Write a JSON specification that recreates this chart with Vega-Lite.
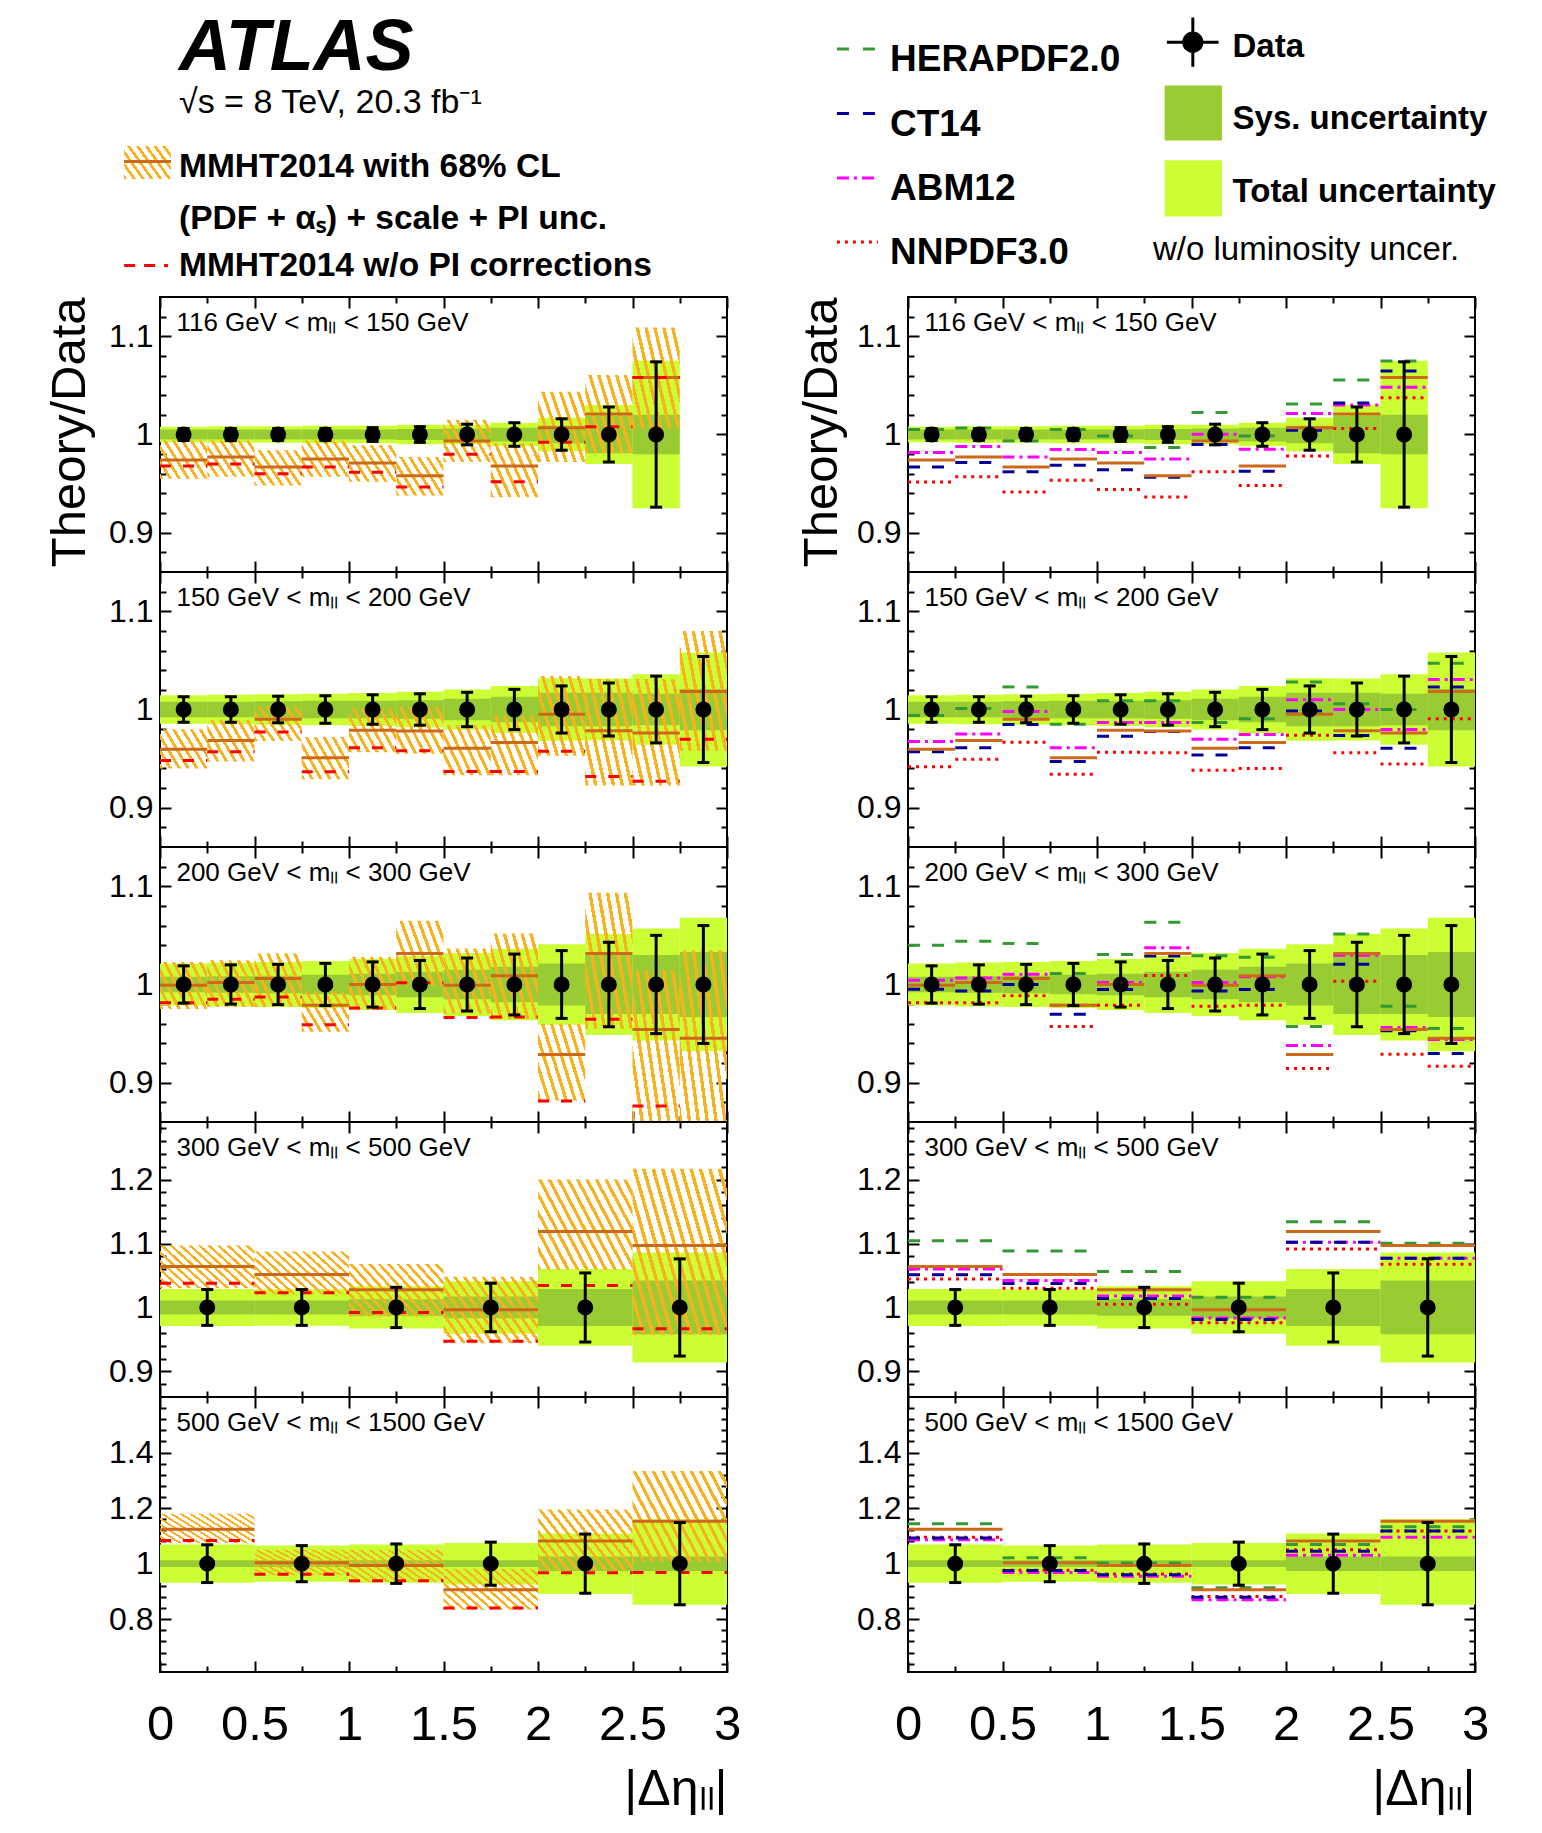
{
"$schema": "https://vega.github.io/schema/vega-lite/v6.json",
"padding": {"left": 44, "top": 0, "right": 0, "bottom": 0},
"background": "white",
"config": {"view": {"stroke": "black", "strokeWidth": 2}, "font": "Liberation Sans", "text": {"font": "Liberation Sans", "color": "black"}},
"datasets": {
"p1": [
{"lo":0,"hi":0.25,"xc":0.125,"tl":0.992,"th":1.008,"sl":0.995,"sh":1.005,"el":0.994,"eh":1.006,"d":1,"m":0.974,"ml":0.955,"mh":0.994,"np":0.968,"he":1.005,"ct":0.967,"ab":0.9816,"nn":0.9517},
{"lo":0.25,"hi":0.5,"xc":0.375,"tl":0.9915,"th":1.0085,"sl":0.995,"sh":1.005,"el":0.994,"eh":1.006,"d":1,"m":0.977,"ml":0.957,"mh":0.994,"np":0.97,"he":1.0065,"ct":0.9714,"ab":0.9878,"nn":0.957},
{"lo":0.5,"hi":0.75,"xc":0.625,"tl":0.9915,"th":1.0085,"sl":0.995,"sh":1.005,"el":0.994,"eh":1.006,"d":1,"m":0.967,"ml":0.948,"mh":0.984,"np":0.96,"he":0.9935,"ct":0.962,"ab":0.977,"nn":0.9415},
{"lo":0.75,"hi":1,"xc":0.875,"tl":0.991,"th":1.009,"sl":0.995,"sh":1.005,"el":0.994,"eh":1.006,"d":1,"m":0.975,"ml":0.957,"mh":0.994,"np":0.967,"he":1.005,"ct":0.9687,"ab":0.9847,"nn":0.9534},
{"lo":1,"hi":1.25,"xc":1.125,"tl":0.991,"th":1.009,"sl":0.995,"sh":1.005,"el":0.993,"eh":1.007,"d":1,"m":0.971,"ml":0.952,"mh":0.989,"np":0.9615,"he":0.9986,"ct":0.964,"ab":0.9816,"nn":0.944},
{"lo":1.25,"hi":1.5,"xc":1.375,"tl":0.99,"th":1.01,"sl":0.9945,"sh":1.0055,"el":0.992,"eh":1.008,"d":1,"m":0.958,"ml":0.938,"mh":0.977,"np":0.9466,"he":0.9867,"ct":0.9565,"ab":0.975,"nn":0.9364},
{"lo":1.5,"hi":1.75,"xc":1.625,"tl":0.99,"th":1.01,"sl":0.994,"sh":1.006,"el":0.9895,"eh":1.0105,"d":1,"m":0.9935,"ml":0.972,"mh":1.015,"np":0.98,"he":1.0224,"ct":0.9898,"ab":1.0003,"nn":0.962},
{"lo":1.75,"hi":2,"xc":1.875,"tl":0.988,"th":1.012,"sl":0.993,"sh":1.007,"el":0.988,"eh":1.012,"d":1,"m":0.968,"ml":0.936,"mh":0.991,"np":0.952,"he":0.9986,"ct":0.9626,"ab":0.985,"nn":0.948},
{"lo":2,"hi":2.25,"xc":2.125,"tl":0.983,"th":1.017,"sl":0.991,"sh":1.009,"el":0.984,"eh":1.016,"d":1,"m":1.007,"ml":0.972,"mh":1.0435,"np":0.992,"he":1.031,"ct":1.0044,"ab":1.0214,"nn":0.978},
{"lo":2.25,"hi":2.5,"xc":2.375,"tl":0.97,"th":1.03,"sl":0.981,"sh":1.019,"el":0.972,"eh":1.028,"d":1,"m":1.021,"ml":0.981,"mh":1.0605,"np":1.008,"he":1.0554,"ct":1.032,"ab":1.03,"nn":1.006},
{"lo":2.5,"hi":2.75,"xc":2.625,"tl":0.925,"th":1.075,"sl":0.98,"sh":1.02,"el":0.926,"eh":1.074,"d":1,"m":1.058,"ml":1.006,"mh":1.109,"np":1.058,"he":1.0748,"ct":1.0646,"ab":1.048,"nn":1.0374}
],
"p2": [
{"lo":0,"hi":0.25,"xc":0.125,"tl":0.9855,"th":1.0145,"sl":0.992,"sh":1.008,"el":0.987,"eh":1.013,"d":1,"m":0.9596,"ml":0.94,"mh":0.98,"np":0.948,"he":0.9939,"ct":0.957,"ab":0.9674,"nn":0.9416},
{"lo":0.25,"hi":0.5,"xc":0.375,"tl":0.985,"th":1.015,"sl":0.992,"sh":1.008,"el":0.987,"eh":1.013,"d":1,"m":0.9684,"ml":0.947,"mh":0.989,"np":0.957,"he":1.001,"ct":0.961,"ab":0.975,"nn":0.9494},
{"lo":0.5,"hi":0.75,"xc":0.625,"tl":0.9845,"th":1.0155,"sl":0.9915,"sh":1.0085,"el":0.9865,"eh":1.0135,"d":1,"m":0.99,"ml":0.968,"mh":1.003,"np":0.977,"he":1.023,"ct":0.9847,"ab":0.998,"nn":0.9667},
{"lo":0.75,"hi":1,"xc":0.875,"tl":0.984,"th":1.016,"sl":0.991,"sh":1.009,"el":0.986,"eh":1.014,"d":1,"m":0.9508,"ml":0.929,"mh":0.972,"np":0.9365,"he":0.985,"ct":0.947,"ab":0.961,"nn":0.934},
{"lo":1,"hi":1.25,"xc":1.125,"tl":0.9833,"th":1.0167,"sl":0.991,"sh":1.009,"el":0.985,"eh":1.015,"d":1,"m":0.979,"ml":0.9565,"mh":1.0007,"np":0.961,"he":1.0088,"ct":0.9728,"ab":0.9868,"nn":0.9565},
{"lo":1.25,"hi":1.5,"xc":1.375,"tl":0.982,"th":1.018,"sl":0.9905,"sh":1.0095,"el":0.984,"eh":1.016,"d":1,"m":0.978,"ml":0.955,"mh":1.0024,"np":0.958,"he":1.0088,"ct":0.9776,"ab":0.9868,"nn":0.9559},
{"lo":1.5,"hi":1.75,"xc":1.625,"tl":0.9796,"th":1.0204,"sl":0.989,"sh":1.011,"el":0.9825,"eh":1.0175,"d":1,"m":0.9606,"ml":0.933,"mh":0.984,"np":0.937,"he":0.9868,"ct":0.9538,"ab":0.9698,"nn":0.9382},
{"lo":1.75,"hi":2,"xc":1.875,"tl":0.976,"th":1.024,"sl":0.987,"sh":1.013,"el":0.9795,"eh":1.0205,"d":1,"m":0.9664,"ml":0.933,"mh":0.994,"np":0.937,"he":0.9905,"ct":0.961,"ab":0.9745,"nn":0.94},
{"lo":2,"hi":2.25,"xc":2.125,"tl":0.9682,"th":1.0318,"sl":0.983,"sh":1.017,"el":0.976,"eh":1.024,"d":1,"m":0.9952,"ml":0.953,"mh":1.034,"np":0.9576,"he":1.028,"ct":0.9986,"ab":1.01,"nn":0.9739},
{"lo":2.25,"hi":2.5,"xc":2.375,"tl":0.9685,"th":1.0315,"sl":0.983,"sh":1.017,"el":0.973,"eh":1.027,"d":1,"m":0.9783,"ml":0.9226,"mh":1.031,"np":0.9317,"he":1.0058,"ct":0.9735,"ab":1.0,"nn":0.956},
{"lo":2.5,"hi":2.75,"xc":2.625,"tl":0.964,"th":1.036,"sl":0.984,"sh":1.016,"el":0.966,"eh":1.034,"d":1,"m":0.976,"ml":0.9226,"mh":1.031,"np":0.927,"he":1.0,"ct":0.9606,"ab":0.9796,"nn":0.9446},
{"lo":2.75,"hi":3,"xc":2.875,"tl":0.942,"th":1.058,"sl":0.979,"sh":1.021,"el":0.946,"eh":1.054,"d":1,"m":1.0183,"ml":0.958,"mh":1.08,"np":0.9698,"he":1.047,"ct":1.0228,"ab":1.0306,"nn":0.9905}
],
"p3": [
{"lo":0,"hi":0.25,"xc":0.125,"tl":0.9785,"th":1.0215,"sl":0.992,"sh":1.008,"el":0.981,"eh":1.019,"d":1,"m":0.9993,"ml":0.975,"mh":1.023,"np":0.9813,"he":1.04,"ct":0.9952,"ab":1.0044,"nn":0.9813},
{"lo":0.25,"hi":0.5,"xc":0.375,"tl":0.9775,"th":1.0225,"sl":0.9915,"sh":1.0085,"el":0.98,"eh":1.02,"d":1,"m":1.002,"ml":0.977,"mh":1.0248,"np":0.985,"he":1.0441,"ct":0.9935,"ab":1.0065,"nn":0.9813},
{"lo":0.5,"hi":0.75,"xc":0.625,"tl":0.977,"th":1.023,"sl":0.991,"sh":1.009,"el":0.9795,"eh":1.0205,"d":1,"m":1.006,"ml":0.977,"mh":1.0316,"np":0.9874,"he":1.0418,"ct":1.0,"ab":1.0105,"nn":0.9885},
{"lo":0.75,"hi":1,"xc":0.875,"tl":0.976,"th":1.024,"sl":0.99,"sh":1.01,"el":0.9785,"eh":1.0215,"d":1,"m":0.979,"ml":0.9518,"mh":0.9925,"np":0.959,"he":1.0112,"ct":0.9698,"ab":0.979,"nn":0.9572},
{"lo":1,"hi":1.25,"xc":1.125,"tl":0.974,"th":1.026,"sl":0.989,"sh":1.011,"el":0.977,"eh":1.023,"d":1,"m":1.0,"ml":0.974,"mh":1.028,"np":0.976,"he":1.0306,"ct":0.995,"ab":1.002,"nn":0.979},
{"lo":1.25,"hi":1.5,"xc":1.375,"tl":0.971,"th":1.029,"sl":0.987,"sh":1.013,"el":0.9755,"eh":1.0245,"d":1,"m":1.0316,"ml":0.999,"mh":1.065,"np":1.0017,"he":1.0635,"ct":1.0289,"ab":1.0374,"nn":1.0092},
{"lo":1.5,"hi":1.75,"xc":1.625,"tl":0.968,"th":1.032,"sl":0.985,"sh":1.015,"el":0.973,"eh":1.027,"d":1,"m":0.9993,"ml":0.9705,"mh":1.0367,"np":0.9664,"he":1.0292,"ct":0.9935,"ab":1.002,"nn":0.9779},
{"lo":1.75,"hi":2,"xc":1.875,"tl":0.9635,"th":1.0365,"sl":0.982,"sh":1.018,"el":0.969,"eh":1.031,"d":1,"m":1.0088,"ml":0.965,"mh":1.052,"np":0.967,"he":1.0278,"ct":0.995,"ab":1.008,"nn":0.979},
{"lo":2,"hi":2.25,"xc":2.125,"tl":0.959,"th":1.041,"sl":0.9785,"sh":1.0215,"el":0.9655,"eh":1.0345,"d":1,"m":0.9287,"ml":0.882,"mh":0.96,"np":0.8815,"he":0.9572,"ct":0.9287,"ab":0.9379,"nn":0.9144},
{"lo":2.25,"hi":2.5,"xc":2.375,"tl":0.9485,"th":1.0515,"sl":0.97,"sh":1.03,"el":0.957,"eh":1.043,"d":1,"m":1.0316,"ml":0.955,"mh":1.0934,"np":0.9647,"he":1.0513,"ct":1.0207,"ab":1.0299,"nn":1.0034},
{"lo":2.5,"hi":2.75,"xc":2.625,"tl":0.943,"th":1.057,"sl":0.97,"sh":1.03,"el":0.95,"eh":1.05,"d":1,"m":0.9542,"ml":0.855,"mh":1.0146,"np":0.8764,"he":0.9779,"ct":0.9528,"ab":0.9562,"nn":0.929},
{"lo":2.75,"hi":3,"xc":2.875,"tl":0.932,"th":1.068,"sl":0.967,"sh":1.033,"el":0.94,"eh":1.06,"d":1,"m":0.9453,"ml":0.855,"mh":1.035,"np":null,"he":0.9552,"ct":0.9297,"ab":0.944,"nn":0.9168}
],
"p4": [
{"lo":0,"hi":0.5,"xc":0.25,"tl":0.971,"th":1.029,"sl":0.989,"sh":1.011,"el":0.972,"eh":1.028,"d":1,"m":1.064,"ml":1.03,"mh":1.0967,"np":1.038,"he":1.1045,"ct":1.051,"ab":1.06,"nn":1.0447},
{"lo":0.5,"hi":1,"xc":0.75,"tl":0.9715,"th":1.0285,"sl":0.989,"sh":1.011,"el":0.972,"eh":1.028,"d":1,"m":1.0515,"ml":1.0208,"mh":1.0874,"np":1.0229,"he":1.0884,"ct":1.0374,"ab":1.042,"nn":1.03},
{"lo":1,"hi":1.5,"xc":1.25,"tl":0.967,"th":1.033,"sl":0.987,"sh":1.013,"el":0.9685,"eh":1.0315,"d":1,"m":1.0276,"ml":0.986,"mh":1.068,"np":0.992,"he":1.0562,"ct":1.014,"ab":1.018,"nn":1.005},
{"lo":1.5,"hi":2,"xc":1.75,"tl":0.959,"th":1.041,"sl":0.983,"sh":1.017,"el":0.962,"eh":1.038,"d":1,"m":0.9964,"ml":0.944,"mh":1.048,"np":0.947,"he":1.0161,"ct":0.9813,"ab":0.9834,"nn":0.976},
{"lo":2,"hi":2.5,"xc":2.25,"tl":0.94,"th":1.06,"sl":0.971,"sh":1.029,"el":0.946,"eh":1.054,"d":1,"m":1.1186,"ml":1.0588,"mh":1.2,"np":1.0343,"he":1.134,"ct":1.102,"ab":1.102,"nn":1.0915},
{"lo":2.5,"hi":3,"xc":2.75,"tl":0.914,"th":1.086,"sl":0.958,"sh":1.042,"el":0.924,"eh":1.076,"d":1,"m":1.0967,"ml":0.957,"mh":1.217,"np":0.9667,"he":1.1004,"ct":1.077,"ab":1.077,"nn":1.0676}
],
"p5": [
{"lo":0,"hi":0.5,"xc":0.25,"tl":0.9314,"th":1.0686,"sl":0.988,"sh":1.012,"el":0.932,"eh":1.068,"d":1,"m":1.124,"ml":1.0734,"mh":1.18,"np":1.083,"he":1.144,"ct":1.092,"ab":1.086,"nn":1.095},
{"lo":0.5,"hi":1,"xc":0.75,"tl":0.935,"th":1.065,"sl":0.988,"sh":1.012,"el":0.935,"eh":1.065,"d":1,"m":1.0036,"ml":0.9586,"mh":1.0497,"np":0.962,"he":1.021,"ct":0.975,"ab":0.968,"nn":0.976},
{"lo":1,"hi":1.5,"xc":1.25,"tl":0.9314,"th":1.0686,"sl":0.988,"sh":1.012,"el":0.929,"eh":1.071,"d":1,"m":0.993,"ml":0.935,"mh":1.0497,"np":0.9385,"he":1.0024,"ct":0.96,"ab":0.955,"nn":0.963},
{"lo":1.5,"hi":2,"xc":1.75,"tl":0.9254,"th":1.0746,"sl":0.988,"sh":1.012,"el":0.9225,"eh":1.0775,"d":1,"m":0.9065,"ml":0.834,"mh":0.982,"np":0.84,"he":0.9136,"ct":0.879,"ab":0.87,"nn":0.882},
{"lo":2,"hi":2.5,"xc":2.25,"tl":0.891,"th":1.109,"sl":0.974,"sh":1.026,"el":0.8935,"eh":1.1065,"d":1,"m":1.0817,"ml":0.976,"mh":1.195,"np":0.967,"he":1.0686,"ct":1.045,"ab":1.03,"nn":1.05},
{"lo":2.5,"hi":3,"xc":2.75,"tl":0.852,"th":1.16,"sl":0.974,"sh":1.026,"el":0.852,"eh":1.148,"d":1,"m":1.1527,"ml":1.006,"mh":1.334,"np":0.968,"he":1.1325,"ct":1.118,"ab":1.095,"nn":1.118}
]
},
"columns": 2,
"spacing": {"row": 0, "column": 181},
"bounds": "flush",
"concat": [
{"width":567,"height":297,"view":{"stroke":null},"data":{"values":[{"k":1}]},"layer":[
{"mark":{"type":"rect","fill":{"gradient":"linear","x1":0,"y1":1,"x2":1.2,"y2":0.4,"stops":[{"offset":0,"color":"#f7b21e"},{"offset":0.0475,"color":"#f7b21e"},{"offset":0.0475,"color":"rgba(247,178,30,0)"},{"offset":0.125,"color":"rgba(247,178,30,0)"},{"offset":0.125,"color":"#f7b21e"},{"offset":0.1725,"color":"#f7b21e"},{"offset":0.1725,"color":"rgba(247,178,30,0)"},{"offset":0.25,"color":"rgba(247,178,30,0)"},{"offset":0.25,"color":"#f7b21e"},{"offset":0.2975,"color":"#f7b21e"},{"offset":0.2975,"color":"rgba(247,178,30,0)"},{"offset":0.375,"color":"rgba(247,178,30,0)"},{"offset":0.375,"color":"#f7b21e"},{"offset":0.4225,"color":"#f7b21e"},{"offset":0.4225,"color":"rgba(247,178,30,0)"},{"offset":0.5,"color":"rgba(247,178,30,0)"},{"offset":0.5,"color":"#f7b21e"},{"offset":0.5475,"color":"#f7b21e"},{"offset":0.5475,"color":"rgba(247,178,30,0)"},{"offset":0.625,"color":"rgba(247,178,30,0)"},{"offset":0.625,"color":"#f7b21e"},{"offset":0.6725,"color":"#f7b21e"},{"offset":0.6725,"color":"rgba(247,178,30,0)"},{"offset":0.75,"color":"rgba(247,178,30,0)"},{"offset":0.75,"color":"#f7b21e"},{"offset":0.7975,"color":"#f7b21e"},{"offset":0.7975,"color":"rgba(247,178,30,0)"},{"offset":0.875,"color":"rgba(247,178,30,0)"},{"offset":0.875,"color":"#f7b21e"},{"offset":0.9225,"color":"#f7b21e"},{"offset":0.9225,"color":"rgba(247,178,30,0)"},{"offset":1,"color":"rgba(247,178,30,0)"}]}},
 "encoding":{"x":{"datum":-0.19,"type":"quantitative","scale":{"domain":[0,3],"nice":false,"zero":false},"axis":null},"x2":{"datum":0.058},"y":{"datum":0.508,"type":"quantitative","scale":{"domain":[0,1],"nice":false,"zero":false},"axis":null},"y2":{"datum":0.397}}},
{"mark":{"type":"rule","color":"#cc6a1a","strokeWidth":3},"encoding":{"x":{"datum":-0.19,"type":"quantitative","axis":null},"x2":{"datum":0.058},"y":{"datum":0.4566,"type":"quantitative","axis":null}}},
{"mark":{"type":"rule","color":"#ff0000","strokeWidth":3,"strokeDash":[11,9]},"encoding":{"x":{"datum":-0.19,"type":"quantitative","axis":null},"x2":{"datum":0.042},"y":{"datum":0.106,"type":"quantitative","axis":null}}},
{"mark":{"type":"text","align":"left","baseline":"alphabetic","fontSize":72,"fontWeight":"bold","fontStyle":"italic"},"encoding":{"x":{"datum":0.1005,"type":"quantitative","axis":null},"y":{"datum":0.764,"type":"quantitative","axis":null},"text":{"value":"ATLAS"}}},
{"mark":{"type":"text","align":"left","baseline":"alphabetic","fontSize":34},"encoding":{"x":{"datum":0.1005,"type":"quantitative","axis":null},"y":{"datum":0.618,"type":"quantitative","axis":null},"text":{"value":"√s = 8 TeV, 20.3 fb⁻¹"}}},
{"mark":{"type":"text","align":"left","baseline":"alphabetic","fontSize":33.5,"fontWeight":"bold"},"encoding":{"x":{"datum":0.1005,"type":"quantitative","axis":null},"y":{"datum":0.405,"type":"quantitative","axis":null},"text":{"value":"MMHT2014 with 68% CL"}}},
{"mark":{"type":"text","align":"left","baseline":"alphabetic","fontSize":33.5,"fontWeight":"bold"},"encoding":{"x":{"datum":0.1005,"type":"quantitative","axis":null},"y":{"datum":0.229,"type":"quantitative","axis":null},"text":{"value":"(PDF + αₛ) + scale + PI unc."}}},
{"mark":{"type":"text","align":"left","baseline":"alphabetic","fontSize":33.5,"fontWeight":"bold"},"encoding":{"x":{"datum":0.1005,"type":"quantitative","axis":null},"y":{"datum":0.0707,"type":"quantitative","axis":null},"text":{"value":"MMHT2014 w/o PI corrections"}}}
]},
{"width":567,"height":297,"view":{"stroke":null},"data":{"values":[{"k":1}]},"layer":[
{"mark":{"type":"rule","color":"#339933","strokeWidth":3,"strokeDash":[12,14]},"encoding":{"x":{"datum":-0.376,"type":"quantitative","scale":{"domain":[0,3],"nice":false,"zero":false},"axis":null},"x2":{"datum":-0.159},"y":{"datum":0.835,"type":"quantitative","scale":{"domain":[0,1],"nice":false,"zero":false},"axis":null}}},
{"mark":{"type":"rule","color":"#000099","strokeWidth":3,"strokeDash":[12,14]},"encoding":{"x":{"datum":-0.376,"type":"quantitative","axis":null},"x2":{"datum":-0.159},"y":{"datum":0.618,"type":"quantitative","axis":null}}},
{"mark":{"type":"rule","color":"#ff00ff","strokeWidth":3,"strokeDash":[12,5,3,5]},"encoding":{"x":{"datum":-0.376,"type":"quantitative","axis":null},"x2":{"datum":-0.159},"y":{"datum":0.401,"type":"quantitative","axis":null}}},
{"mark":{"type":"rule","color":"#ff0000","strokeWidth":3,"strokeDash":[3,5]},"encoding":{"x":{"datum":-0.376,"type":"quantitative","axis":null},"x2":{"datum":-0.159},"y":{"datum":0.185,"type":"quantitative","axis":null}}},
{"mark":{"type":"rect","fill":"#99cc33"},"encoding":{"x":{"datum":1.358,"type":"quantitative","axis":null},"x2":{"datum":1.661},"y":{"datum":0.527,"type":"quantitative","axis":null},"y2":{"datum":0.7125}}},
{"mark":{"type":"rect","fill":"#ccff33"},"encoding":{"x":{"datum":1.358,"type":"quantitative","axis":null},"x2":{"datum":1.661},"y":{"datum":0.2714,"type":"quantitative","axis":null},"y2":{"datum":0.4606}}},
{"mark":{"type":"rule","color":"black","strokeWidth":3},"encoding":{"x":{"datum":1.507,"type":"quantitative","axis":null},"y":{"datum":0.775,"type":"quantitative","axis":null},"y2":{"datum":0.941}}},
{"mark":{"type":"rule","color":"black","strokeWidth":3},"encoding":{"x":{"datum":1.37,"type":"quantitative","axis":null},"x2":{"datum":1.643},"y":{"datum":0.858,"type":"quantitative","axis":null}}},
{"mark":{"type":"circle","size":452,"color":"black","opacity":1},"encoding":{"x":{"datum":1.507,"type":"quantitative","axis":null},"y":{"datum":0.858,"type":"quantitative","axis":null}}},
{"mark":{"type":"text","align":"left","baseline":"alphabetic","fontSize":37,"fontWeight":"bold"},"encoding":{"x":{"datum":-0.095,"type":"quantitative","axis":null},"y":{"datum":0.76,"type":"quantitative","axis":null},"text":{"value":"HERAPDF2.0"}}},
{"mark":{"type":"text","align":"left","baseline":"alphabetic","fontSize":37,"fontWeight":"bold"},"encoding":{"x":{"datum":-0.095,"type":"quantitative","axis":null},"y":{"datum":0.543,"type":"quantitative","axis":null},"text":{"value":"CT14"}}},
{"mark":{"type":"text","align":"left","baseline":"alphabetic","fontSize":37,"fontWeight":"bold"},"encoding":{"x":{"datum":-0.095,"type":"quantitative","axis":null},"y":{"datum":0.3266,"type":"quantitative","axis":null},"text":{"value":"ABM12"}}},
{"mark":{"type":"text","align":"left","baseline":"alphabetic","fontSize":37,"fontWeight":"bold"},"encoding":{"x":{"datum":-0.095,"type":"quantitative","axis":null},"y":{"datum":0.11,"type":"quantitative","axis":null},"text":{"value":"NNPDF3.0"}}},
{"mark":{"type":"text","align":"left","baseline":"alphabetic","fontSize":33,"fontWeight":"bold"},"encoding":{"x":{"datum":1.717,"type":"quantitative","axis":null},"y":{"datum":0.807,"type":"quantitative","axis":null},"text":{"value":"Data"}}},
{"mark":{"type":"text","align":"left","baseline":"alphabetic","fontSize":33,"fontWeight":"bold"},"encoding":{"x":{"datum":1.717,"type":"quantitative","axis":null},"y":{"datum":0.567,"type":"quantitative","axis":null},"text":{"value":"Sys. uncertainty"}}},
{"mark":{"type":"text","align":"left","baseline":"alphabetic","fontSize":33,"fontWeight":"bold"},"encoding":{"x":{"datum":1.717,"type":"quantitative","axis":null},"y":{"datum":0.319,"type":"quantitative","axis":null},"text":{"value":"Total uncertainty"}}},
{"mark":{"type":"text","align":"left","baseline":"alphabetic","fontSize":33},"encoding":{"x":{"datum":1.296,"type":"quantitative","axis":null},"y":{"datum":0.126,"type":"quantitative","axis":null},"text":{"value":"w/o luminosity uncer."}}}
]},
{"width":567,"height":275,"data":{"name":"p1"},"layer":[
{"mark":{"type":"rect","fill":"#ccff33"},"encoding":{"x":{"field":"lo","type":"quantitative","scale":{"domain":[0,3],"nice":false,"zero":false},"axis":{"orient":"bottom","values":[0,0.25,0.5,0.75,1,1.25,1.5,1.75,2,2.25,2.5,2.75,3],"domain":false,"grid":false,"labels":false,"tickColor":"black","tickWidth":2,"tickSize":{"condition":{"test":"abs(datum.value*2-round(datum.value*2))<0.001","value":-11},"value":-6},"title":null}},"x2":{"field":"hi"},"y":{"field":"tl","type":"quantitative","scale":{"domain":[0.86,1.14],"nice":false,"zero":false},"axis":{"orient":"left","values":[0.88,0.9,0.92,0.94,0.96,0.98,1,1.02,1.04,1.06,1.08,1.1,1.12],"domain":false,"grid":false,"tickColor":"black","tickWidth":2,"tickSize":{"condition":{"test":"abs(datum.value*10-round(datum.value*10))<0.001","value":-11},"value":-6},"format":".2~f","labelExpr":"abs(datum.value*10-round(datum.value*10))<0.001 ? datum.label : ''","labelFont":"Liberation Sans","labelFontSize":32,"labelColor":"black","labelPadding":18,"labelOverlap":false,"title":"Theory/Data","titleFont":"Liberation Sans","titleFontSize":49,"titleFontWeight":"normal","titleColor":"black","titleAngle":270,"titleAlign":"right","titleBaseline":"top","titleX":-115,"titleY":0}},"y2":{"field":"th"}}},
{"mark":{"type":"rect","fill":"#99cc33"},"encoding":{"x":{"field":"lo","type":"quantitative","axis":{"orient":"top","values":[0,0.25,0.5,0.75,1,1.25,1.5,1.75,2,2.25,2.5,2.75,3],"domain":false,"grid":false,"labels":false,"tickColor":"black","tickWidth":2,"tickSize":{"condition":{"test":"abs(datum.value*2-round(datum.value*2))<0.001","value":-11},"value":-6},"title":null}},"x2":{"field":"hi"},"y":{"field":"sl","type":"quantitative","axis":{"orient":"right","values":[0.88,0.9,0.92,0.94,0.96,0.98,1,1.02,1.04,1.06,1.08,1.1,1.12],"domain":false,"grid":false,"labels":false,"tickColor":"black","tickWidth":2,"tickSize":{"condition":{"test":"abs(datum.value*10-round(datum.value*10))<0.001","value":-11},"value":-6},"title":null}},"y2":{"field":"sh"}}},
{"mark":{"type":"rect","clip":true,"fill":{"gradient":"linear","x1":0,"y1":1,"x2":1.2,"y2":0.4,"stops":[{"offset":0,"color":"#f7b21e"},{"offset":0.0475,"color":"#f7b21e"},{"offset":0.0475,"color":"rgba(247,178,30,0)"},{"offset":0.125,"color":"rgba(247,178,30,0)"},{"offset":0.125,"color":"#f7b21e"},{"offset":0.1725,"color":"#f7b21e"},{"offset":0.1725,"color":"rgba(247,178,30,0)"},{"offset":0.25,"color":"rgba(247,178,30,0)"},{"offset":0.25,"color":"#f7b21e"},{"offset":0.2975,"color":"#f7b21e"},{"offset":0.2975,"color":"rgba(247,178,30,0)"},{"offset":0.375,"color":"rgba(247,178,30,0)"},{"offset":0.375,"color":"#f7b21e"},{"offset":0.4225,"color":"#f7b21e"},{"offset":0.4225,"color":"rgba(247,178,30,0)"},{"offset":0.5,"color":"rgba(247,178,30,0)"},{"offset":0.5,"color":"#f7b21e"},{"offset":0.5475,"color":"#f7b21e"},{"offset":0.5475,"color":"rgba(247,178,30,0)"},{"offset":0.625,"color":"rgba(247,178,30,0)"},{"offset":0.625,"color":"#f7b21e"},{"offset":0.6725,"color":"#f7b21e"},{"offset":0.6725,"color":"rgba(247,178,30,0)"},{"offset":0.75,"color":"rgba(247,178,30,0)"},{"offset":0.75,"color":"#f7b21e"},{"offset":0.7975,"color":"#f7b21e"},{"offset":0.7975,"color":"rgba(247,178,30,0)"},{"offset":0.875,"color":"rgba(247,178,30,0)"},{"offset":0.875,"color":"#f7b21e"},{"offset":0.9225,"color":"#f7b21e"},{"offset":0.9225,"color":"rgba(247,178,30,0)"},{"offset":1,"color":"rgba(247,178,30,0)"}]}},"encoding":{"x":{"field":"lo","type":"quantitative","axis":null},"x2":{"field":"hi"},"y":{"field":"ml","type":"quantitative","axis":null},"y2":{"field":"mh"}}},
{"mark":{"type":"rule","color":"#cc6a1a","strokeWidth":3},"encoding":{"x":{"field":"lo","type":"quantitative","axis":null},"x2":{"field":"hi"},"y":{"field":"m","type":"quantitative","axis":null}}},
{"mark":{"type":"rule","color":"#ff0000","strokeWidth":3,"strokeDash":[11,12]},"encoding":{"x":{"field":"lo","type":"quantitative","axis":null},"x2":{"field":"hi"},"y":{"field":"np","type":"quantitative","axis":null}}},
{"mark":{"type":"rule","color":"black","strokeWidth":3},"encoding":{"x":{"field":"xc","type":"quantitative","axis":null},"y":{"field":"el","type":"quantitative","axis":null},"y2":{"field":"eh"}}},
{"mark":{"type":"tick","orient":"horizontal","size":12,"thickness":3,"color":"black","opacity":1},"encoding":{"x":{"field":"xc","type":"quantitative","axis":null},"y":{"field":"el","type":"quantitative","axis":null}}},
{"mark":{"type":"tick","orient":"horizontal","size":12,"thickness":3,"color":"black","opacity":1},"encoding":{"x":{"field":"xc","type":"quantitative","axis":null},"y":{"field":"eh","type":"quantitative","axis":null}}},
{"mark":{"type":"circle","size":254,"color":"black","opacity":1},"encoding":{"x":{"field":"xc","type":"quantitative","axis":null},"y":{"field":"d","type":"quantitative","axis":null}}},
{"data":{"values":[{"t":"116 GeV < mₗₗ < 150 GeV"}]},"mark":{"type":"text","align":"left","baseline":"alphabetic","fontSize":26},"encoding":{"x":{"datum":0.087,"type":"quantitative","axis":null},"y":{"datum":1.1054,"type":"quantitative","axis":null},"text":{"field":"t"}}}
]},
{"width":567,"height":275,"data":{"name":"p1"},"layer":[
{"mark":{"type":"rect","fill":"#ccff33"},"encoding":{"x":{"field":"lo","type":"quantitative","scale":{"domain":[0,3],"nice":false,"zero":false},"axis":{"orient":"bottom","values":[0,0.25,0.5,0.75,1,1.25,1.5,1.75,2,2.25,2.5,2.75,3],"domain":false,"grid":false,"labels":false,"tickColor":"black","tickWidth":2,"tickSize":{"condition":{"test":"abs(datum.value*2-round(datum.value*2))<0.001","value":-11},"value":-6},"title":null}},"x2":{"field":"hi"},"y":{"field":"tl","type":"quantitative","scale":{"domain":[0.86,1.14],"nice":false,"zero":false},"axis":{"orient":"left","values":[0.88,0.9,0.92,0.94,0.96,0.98,1,1.02,1.04,1.06,1.08,1.1,1.12],"domain":false,"grid":false,"tickColor":"black","tickWidth":2,"tickSize":{"condition":{"test":"abs(datum.value*10-round(datum.value*10))<0.001","value":-11},"value":-6},"format":".2~f","labelExpr":"abs(datum.value*10-round(datum.value*10))<0.001 ? datum.label : ''","labelFont":"Liberation Sans","labelFontSize":32,"labelColor":"black","labelPadding":18,"labelOverlap":false,"title":"Theory/Data","titleFont":"Liberation Sans","titleFontSize":49,"titleFontWeight":"normal","titleColor":"black","titleAngle":270,"titleAlign":"right","titleBaseline":"top","titleX":-111,"titleY":0}},"y2":{"field":"th"}}},
{"mark":{"type":"rect","fill":"#99cc33"},"encoding":{"x":{"field":"lo","type":"quantitative","axis":{"orient":"top","values":[0,0.25,0.5,0.75,1,1.25,1.5,1.75,2,2.25,2.5,2.75,3],"domain":false,"grid":false,"labels":false,"tickColor":"black","tickWidth":2,"tickSize":{"condition":{"test":"abs(datum.value*2-round(datum.value*2))<0.001","value":-11},"value":-6},"title":null}},"x2":{"field":"hi"},"y":{"field":"sl","type":"quantitative","axis":{"orient":"right","values":[0.88,0.9,0.92,0.94,0.96,0.98,1,1.02,1.04,1.06,1.08,1.1,1.12],"domain":false,"grid":false,"labels":false,"tickColor":"black","tickWidth":2,"tickSize":{"condition":{"test":"abs(datum.value*10-round(datum.value*10))<0.001","value":-11},"value":-6},"title":null}},"y2":{"field":"sh"}}},
{"mark":{"type":"rule","color":"#ff0000","strokeWidth":3,"strokeDash":[3,5]},"encoding":{"x":{"field":"lo","type":"quantitative","axis":null},"x2":{"field":"hi"},"y":{"field":"nn","type":"quantitative","axis":null}}},
{"mark":{"type":"rule","color":"#ff00ff","strokeWidth":3,"strokeDash":[12,5,3,5]},"encoding":{"x":{"field":"lo","type":"quantitative","axis":null},"x2":{"field":"hi"},"y":{"field":"ab","type":"quantitative","axis":null}}},
{"mark":{"type":"rule","color":"#000099","strokeWidth":3,"strokeDash":[12,12]},"encoding":{"x":{"field":"lo","type":"quantitative","axis":null},"x2":{"field":"hi"},"y":{"field":"ct","type":"quantitative","axis":null}}},
{"mark":{"type":"rule","color":"#339933","strokeWidth":3,"strokeDash":[12,12]},"encoding":{"x":{"field":"lo","type":"quantitative","axis":null},"x2":{"field":"hi"},"y":{"field":"he","type":"quantitative","axis":null}}},
{"mark":{"type":"rule","color":"#cc6a1a","strokeWidth":3},"encoding":{"x":{"field":"lo","type":"quantitative","axis":null},"x2":{"field":"hi"},"y":{"field":"m","type":"quantitative","axis":null}}},
{"mark":{"type":"rule","color":"black","strokeWidth":3},"encoding":{"x":{"field":"xc","type":"quantitative","axis":null},"y":{"field":"el","type":"quantitative","axis":null},"y2":{"field":"eh"}}},
{"mark":{"type":"tick","orient":"horizontal","size":12,"thickness":3,"color":"black","opacity":1},"encoding":{"x":{"field":"xc","type":"quantitative","axis":null},"y":{"field":"el","type":"quantitative","axis":null}}},
{"mark":{"type":"tick","orient":"horizontal","size":12,"thickness":3,"color":"black","opacity":1},"encoding":{"x":{"field":"xc","type":"quantitative","axis":null},"y":{"field":"eh","type":"quantitative","axis":null}}},
{"mark":{"type":"circle","size":254,"color":"black","opacity":1},"encoding":{"x":{"field":"xc","type":"quantitative","axis":null},"y":{"field":"d","type":"quantitative","axis":null}}},
{"data":{"values":[{"t":"116 GeV < mₗₗ < 150 GeV"}]},"mark":{"type":"text","align":"left","baseline":"alphabetic","fontSize":26},"encoding":{"x":{"datum":0.087,"type":"quantitative","axis":null},"y":{"datum":1.1054,"type":"quantitative","axis":null},"text":{"field":"t"}}}
]},
{"width":567,"height":275,"data":{"name":"p2"},"layer":[
{"mark":{"type":"rect","fill":"#ccff33"},"encoding":{"x":{"field":"lo","type":"quantitative","scale":{"domain":[0,3],"nice":false,"zero":false},"axis":{"orient":"bottom","values":[0,0.25,0.5,0.75,1,1.25,1.5,1.75,2,2.25,2.5,2.75,3],"domain":false,"grid":false,"labels":false,"tickColor":"black","tickWidth":2,"tickSize":{"condition":{"test":"abs(datum.value*2-round(datum.value*2))<0.001","value":-11},"value":-6},"title":null}},"x2":{"field":"hi"},"y":{"field":"tl","type":"quantitative","scale":{"domain":[0.86,1.14],"nice":false,"zero":false},"axis":{"orient":"left","values":[0.88,0.9,0.92,0.94,0.96,0.98,1,1.02,1.04,1.06,1.08,1.1,1.12],"domain":false,"grid":false,"tickColor":"black","tickWidth":2,"tickSize":{"condition":{"test":"abs(datum.value*10-round(datum.value*10))<0.001","value":-11},"value":-6},"format":".2~f","labelExpr":"abs(datum.value*10-round(datum.value*10))<0.001 ? datum.label : ''","labelFont":"Liberation Sans","labelFontSize":32,"labelColor":"black","labelPadding":18,"labelOverlap":false,"title":null}},"y2":{"field":"th"}}},
{"mark":{"type":"rect","fill":"#99cc33"},"encoding":{"x":{"field":"lo","type":"quantitative","axis":{"orient":"top","values":[0,0.25,0.5,0.75,1,1.25,1.5,1.75,2,2.25,2.5,2.75,3],"domain":false,"grid":false,"labels":false,"tickColor":"black","tickWidth":2,"tickSize":{"condition":{"test":"abs(datum.value*2-round(datum.value*2))<0.001","value":-11},"value":-6},"title":null}},"x2":{"field":"hi"},"y":{"field":"sl","type":"quantitative","axis":{"orient":"right","values":[0.88,0.9,0.92,0.94,0.96,0.98,1,1.02,1.04,1.06,1.08,1.1,1.12],"domain":false,"grid":false,"labels":false,"tickColor":"black","tickWidth":2,"tickSize":{"condition":{"test":"abs(datum.value*10-round(datum.value*10))<0.001","value":-11},"value":-6},"title":null}},"y2":{"field":"sh"}}},
{"mark":{"type":"rect","clip":true,"fill":{"gradient":"linear","x1":0,"y1":1,"x2":1.2,"y2":0.4,"stops":[{"offset":0,"color":"#f7b21e"},{"offset":0.0475,"color":"#f7b21e"},{"offset":0.0475,"color":"rgba(247,178,30,0)"},{"offset":0.125,"color":"rgba(247,178,30,0)"},{"offset":0.125,"color":"#f7b21e"},{"offset":0.1725,"color":"#f7b21e"},{"offset":0.1725,"color":"rgba(247,178,30,0)"},{"offset":0.25,"color":"rgba(247,178,30,0)"},{"offset":0.25,"color":"#f7b21e"},{"offset":0.2975,"color":"#f7b21e"},{"offset":0.2975,"color":"rgba(247,178,30,0)"},{"offset":0.375,"color":"rgba(247,178,30,0)"},{"offset":0.375,"color":"#f7b21e"},{"offset":0.4225,"color":"#f7b21e"},{"offset":0.4225,"color":"rgba(247,178,30,0)"},{"offset":0.5,"color":"rgba(247,178,30,0)"},{"offset":0.5,"color":"#f7b21e"},{"offset":0.5475,"color":"#f7b21e"},{"offset":0.5475,"color":"rgba(247,178,30,0)"},{"offset":0.625,"color":"rgba(247,178,30,0)"},{"offset":0.625,"color":"#f7b21e"},{"offset":0.6725,"color":"#f7b21e"},{"offset":0.6725,"color":"rgba(247,178,30,0)"},{"offset":0.75,"color":"rgba(247,178,30,0)"},{"offset":0.75,"color":"#f7b21e"},{"offset":0.7975,"color":"#f7b21e"},{"offset":0.7975,"color":"rgba(247,178,30,0)"},{"offset":0.875,"color":"rgba(247,178,30,0)"},{"offset":0.875,"color":"#f7b21e"},{"offset":0.9225,"color":"#f7b21e"},{"offset":0.9225,"color":"rgba(247,178,30,0)"},{"offset":1,"color":"rgba(247,178,30,0)"}]}},"encoding":{"x":{"field":"lo","type":"quantitative","axis":null},"x2":{"field":"hi"},"y":{"field":"ml","type":"quantitative","axis":null},"y2":{"field":"mh"}}},
{"mark":{"type":"rule","color":"#cc6a1a","strokeWidth":3},"encoding":{"x":{"field":"lo","type":"quantitative","axis":null},"x2":{"field":"hi"},"y":{"field":"m","type":"quantitative","axis":null}}},
{"mark":{"type":"rule","color":"#ff0000","strokeWidth":3,"strokeDash":[11,12]},"encoding":{"x":{"field":"lo","type":"quantitative","axis":null},"x2":{"field":"hi"},"y":{"field":"np","type":"quantitative","axis":null}}},
{"mark":{"type":"rule","color":"black","strokeWidth":3},"encoding":{"x":{"field":"xc","type":"quantitative","axis":null},"y":{"field":"el","type":"quantitative","axis":null},"y2":{"field":"eh"}}},
{"mark":{"type":"tick","orient":"horizontal","size":12,"thickness":3,"color":"black","opacity":1},"encoding":{"x":{"field":"xc","type":"quantitative","axis":null},"y":{"field":"el","type":"quantitative","axis":null}}},
{"mark":{"type":"tick","orient":"horizontal","size":12,"thickness":3,"color":"black","opacity":1},"encoding":{"x":{"field":"xc","type":"quantitative","axis":null},"y":{"field":"eh","type":"quantitative","axis":null}}},
{"mark":{"type":"circle","size":254,"color":"black","opacity":1},"encoding":{"x":{"field":"xc","type":"quantitative","axis":null},"y":{"field":"d","type":"quantitative","axis":null}}},
{"data":{"values":[{"t":"150 GeV < mₗₗ < 200 GeV"}]},"mark":{"type":"text","align":"left","baseline":"alphabetic","fontSize":26},"encoding":{"x":{"datum":0.087,"type":"quantitative","axis":null},"y":{"datum":1.1054,"type":"quantitative","axis":null},"text":{"field":"t"}}}
]},
{"width":567,"height":275,"data":{"name":"p2"},"layer":[
{"mark":{"type":"rect","fill":"#ccff33"},"encoding":{"x":{"field":"lo","type":"quantitative","scale":{"domain":[0,3],"nice":false,"zero":false},"axis":{"orient":"bottom","values":[0,0.25,0.5,0.75,1,1.25,1.5,1.75,2,2.25,2.5,2.75,3],"domain":false,"grid":false,"labels":false,"tickColor":"black","tickWidth":2,"tickSize":{"condition":{"test":"abs(datum.value*2-round(datum.value*2))<0.001","value":-11},"value":-6},"title":null}},"x2":{"field":"hi"},"y":{"field":"tl","type":"quantitative","scale":{"domain":[0.86,1.14],"nice":false,"zero":false},"axis":{"orient":"left","values":[0.88,0.9,0.92,0.94,0.96,0.98,1,1.02,1.04,1.06,1.08,1.1,1.12],"domain":false,"grid":false,"tickColor":"black","tickWidth":2,"tickSize":{"condition":{"test":"abs(datum.value*10-round(datum.value*10))<0.001","value":-11},"value":-6},"format":".2~f","labelExpr":"abs(datum.value*10-round(datum.value*10))<0.001 ? datum.label : ''","labelFont":"Liberation Sans","labelFontSize":32,"labelColor":"black","labelPadding":18,"labelOverlap":false,"title":null}},"y2":{"field":"th"}}},
{"mark":{"type":"rect","fill":"#99cc33"},"encoding":{"x":{"field":"lo","type":"quantitative","axis":{"orient":"top","values":[0,0.25,0.5,0.75,1,1.25,1.5,1.75,2,2.25,2.5,2.75,3],"domain":false,"grid":false,"labels":false,"tickColor":"black","tickWidth":2,"tickSize":{"condition":{"test":"abs(datum.value*2-round(datum.value*2))<0.001","value":-11},"value":-6},"title":null}},"x2":{"field":"hi"},"y":{"field":"sl","type":"quantitative","axis":{"orient":"right","values":[0.88,0.9,0.92,0.94,0.96,0.98,1,1.02,1.04,1.06,1.08,1.1,1.12],"domain":false,"grid":false,"labels":false,"tickColor":"black","tickWidth":2,"tickSize":{"condition":{"test":"abs(datum.value*10-round(datum.value*10))<0.001","value":-11},"value":-6},"title":null}},"y2":{"field":"sh"}}},
{"mark":{"type":"rule","color":"#ff0000","strokeWidth":3,"strokeDash":[3,5]},"encoding":{"x":{"field":"lo","type":"quantitative","axis":null},"x2":{"field":"hi"},"y":{"field":"nn","type":"quantitative","axis":null}}},
{"mark":{"type":"rule","color":"#ff00ff","strokeWidth":3,"strokeDash":[12,5,3,5]},"encoding":{"x":{"field":"lo","type":"quantitative","axis":null},"x2":{"field":"hi"},"y":{"field":"ab","type":"quantitative","axis":null}}},
{"mark":{"type":"rule","color":"#000099","strokeWidth":3,"strokeDash":[12,12]},"encoding":{"x":{"field":"lo","type":"quantitative","axis":null},"x2":{"field":"hi"},"y":{"field":"ct","type":"quantitative","axis":null}}},
{"mark":{"type":"rule","color":"#339933","strokeWidth":3,"strokeDash":[12,12]},"encoding":{"x":{"field":"lo","type":"quantitative","axis":null},"x2":{"field":"hi"},"y":{"field":"he","type":"quantitative","axis":null}}},
{"mark":{"type":"rule","color":"#cc6a1a","strokeWidth":3},"encoding":{"x":{"field":"lo","type":"quantitative","axis":null},"x2":{"field":"hi"},"y":{"field":"m","type":"quantitative","axis":null}}},
{"mark":{"type":"rule","color":"black","strokeWidth":3},"encoding":{"x":{"field":"xc","type":"quantitative","axis":null},"y":{"field":"el","type":"quantitative","axis":null},"y2":{"field":"eh"}}},
{"mark":{"type":"tick","orient":"horizontal","size":12,"thickness":3,"color":"black","opacity":1},"encoding":{"x":{"field":"xc","type":"quantitative","axis":null},"y":{"field":"el","type":"quantitative","axis":null}}},
{"mark":{"type":"tick","orient":"horizontal","size":12,"thickness":3,"color":"black","opacity":1},"encoding":{"x":{"field":"xc","type":"quantitative","axis":null},"y":{"field":"eh","type":"quantitative","axis":null}}},
{"mark":{"type":"circle","size":254,"color":"black","opacity":1},"encoding":{"x":{"field":"xc","type":"quantitative","axis":null},"y":{"field":"d","type":"quantitative","axis":null}}},
{"data":{"values":[{"t":"150 GeV < mₗₗ < 200 GeV"}]},"mark":{"type":"text","align":"left","baseline":"alphabetic","fontSize":26},"encoding":{"x":{"datum":0.087,"type":"quantitative","axis":null},"y":{"datum":1.1054,"type":"quantitative","axis":null},"text":{"field":"t"}}}
]},
{"width":567,"height":275,"data":{"name":"p3"},"layer":[
{"mark":{"type":"rect","fill":"#ccff33"},"encoding":{"x":{"field":"lo","type":"quantitative","scale":{"domain":[0,3],"nice":false,"zero":false},"axis":{"orient":"bottom","values":[0,0.25,0.5,0.75,1,1.25,1.5,1.75,2,2.25,2.5,2.75,3],"domain":false,"grid":false,"labels":false,"tickColor":"black","tickWidth":2,"tickSize":{"condition":{"test":"abs(datum.value*2-round(datum.value*2))<0.001","value":-11},"value":-6},"title":null}},"x2":{"field":"hi"},"y":{"field":"tl","type":"quantitative","scale":{"domain":[0.86,1.14],"nice":false,"zero":false},"axis":{"orient":"left","values":[0.88,0.9,0.92,0.94,0.96,0.98,1,1.02,1.04,1.06,1.08,1.1,1.12],"domain":false,"grid":false,"tickColor":"black","tickWidth":2,"tickSize":{"condition":{"test":"abs(datum.value*10-round(datum.value*10))<0.001","value":-11},"value":-6},"format":".2~f","labelExpr":"abs(datum.value*10-round(datum.value*10))<0.001 ? datum.label : ''","labelFont":"Liberation Sans","labelFontSize":32,"labelColor":"black","labelPadding":18,"labelOverlap":false,"title":null}},"y2":{"field":"th"}}},
{"mark":{"type":"rect","fill":"#99cc33"},"encoding":{"x":{"field":"lo","type":"quantitative","axis":{"orient":"top","values":[0,0.25,0.5,0.75,1,1.25,1.5,1.75,2,2.25,2.5,2.75,3],"domain":false,"grid":false,"labels":false,"tickColor":"black","tickWidth":2,"tickSize":{"condition":{"test":"abs(datum.value*2-round(datum.value*2))<0.001","value":-11},"value":-6},"title":null}},"x2":{"field":"hi"},"y":{"field":"sl","type":"quantitative","axis":{"orient":"right","values":[0.88,0.9,0.92,0.94,0.96,0.98,1,1.02,1.04,1.06,1.08,1.1,1.12],"domain":false,"grid":false,"labels":false,"tickColor":"black","tickWidth":2,"tickSize":{"condition":{"test":"abs(datum.value*10-round(datum.value*10))<0.001","value":-11},"value":-6},"title":null}},"y2":{"field":"sh"}}},
{"mark":{"type":"rect","clip":true,"fill":{"gradient":"linear","x1":0,"y1":1,"x2":1.2,"y2":0.4,"stops":[{"offset":0,"color":"#f7b21e"},{"offset":0.0475,"color":"#f7b21e"},{"offset":0.0475,"color":"rgba(247,178,30,0)"},{"offset":0.125,"color":"rgba(247,178,30,0)"},{"offset":0.125,"color":"#f7b21e"},{"offset":0.1725,"color":"#f7b21e"},{"offset":0.1725,"color":"rgba(247,178,30,0)"},{"offset":0.25,"color":"rgba(247,178,30,0)"},{"offset":0.25,"color":"#f7b21e"},{"offset":0.2975,"color":"#f7b21e"},{"offset":0.2975,"color":"rgba(247,178,30,0)"},{"offset":0.375,"color":"rgba(247,178,30,0)"},{"offset":0.375,"color":"#f7b21e"},{"offset":0.4225,"color":"#f7b21e"},{"offset":0.4225,"color":"rgba(247,178,30,0)"},{"offset":0.5,"color":"rgba(247,178,30,0)"},{"offset":0.5,"color":"#f7b21e"},{"offset":0.5475,"color":"#f7b21e"},{"offset":0.5475,"color":"rgba(247,178,30,0)"},{"offset":0.625,"color":"rgba(247,178,30,0)"},{"offset":0.625,"color":"#f7b21e"},{"offset":0.6725,"color":"#f7b21e"},{"offset":0.6725,"color":"rgba(247,178,30,0)"},{"offset":0.75,"color":"rgba(247,178,30,0)"},{"offset":0.75,"color":"#f7b21e"},{"offset":0.7975,"color":"#f7b21e"},{"offset":0.7975,"color":"rgba(247,178,30,0)"},{"offset":0.875,"color":"rgba(247,178,30,0)"},{"offset":0.875,"color":"#f7b21e"},{"offset":0.9225,"color":"#f7b21e"},{"offset":0.9225,"color":"rgba(247,178,30,0)"},{"offset":1,"color":"rgba(247,178,30,0)"}]}},"encoding":{"x":{"field":"lo","type":"quantitative","axis":null},"x2":{"field":"hi"},"y":{"field":"ml","type":"quantitative","axis":null},"y2":{"field":"mh"}}},
{"mark":{"type":"rule","color":"#cc6a1a","strokeWidth":3},"encoding":{"x":{"field":"lo","type":"quantitative","axis":null},"x2":{"field":"hi"},"y":{"field":"m","type":"quantitative","axis":null}}},
{"mark":{"type":"rule","color":"#ff0000","strokeWidth":3,"strokeDash":[11,12]},"encoding":{"x":{"field":"lo","type":"quantitative","axis":null},"x2":{"field":"hi"},"y":{"field":"np","type":"quantitative","axis":null}}},
{"mark":{"type":"rule","color":"black","strokeWidth":3},"encoding":{"x":{"field":"xc","type":"quantitative","axis":null},"y":{"field":"el","type":"quantitative","axis":null},"y2":{"field":"eh"}}},
{"mark":{"type":"tick","orient":"horizontal","size":12,"thickness":3,"color":"black","opacity":1},"encoding":{"x":{"field":"xc","type":"quantitative","axis":null},"y":{"field":"el","type":"quantitative","axis":null}}},
{"mark":{"type":"tick","orient":"horizontal","size":12,"thickness":3,"color":"black","opacity":1},"encoding":{"x":{"field":"xc","type":"quantitative","axis":null},"y":{"field":"eh","type":"quantitative","axis":null}}},
{"mark":{"type":"circle","size":254,"color":"black","opacity":1},"encoding":{"x":{"field":"xc","type":"quantitative","axis":null},"y":{"field":"d","type":"quantitative","axis":null}}},
{"data":{"values":[{"t":"200 GeV < mₗₗ < 300 GeV"}]},"mark":{"type":"text","align":"left","baseline":"alphabetic","fontSize":26},"encoding":{"x":{"datum":0.087,"type":"quantitative","axis":null},"y":{"datum":1.1054,"type":"quantitative","axis":null},"text":{"field":"t"}}}
]},
{"width":567,"height":275,"data":{"name":"p3"},"layer":[
{"mark":{"type":"rect","fill":"#ccff33"},"encoding":{"x":{"field":"lo","type":"quantitative","scale":{"domain":[0,3],"nice":false,"zero":false},"axis":{"orient":"bottom","values":[0,0.25,0.5,0.75,1,1.25,1.5,1.75,2,2.25,2.5,2.75,3],"domain":false,"grid":false,"labels":false,"tickColor":"black","tickWidth":2,"tickSize":{"condition":{"test":"abs(datum.value*2-round(datum.value*2))<0.001","value":-11},"value":-6},"title":null}},"x2":{"field":"hi"},"y":{"field":"tl","type":"quantitative","scale":{"domain":[0.86,1.14],"nice":false,"zero":false},"axis":{"orient":"left","values":[0.88,0.9,0.92,0.94,0.96,0.98,1,1.02,1.04,1.06,1.08,1.1,1.12],"domain":false,"grid":false,"tickColor":"black","tickWidth":2,"tickSize":{"condition":{"test":"abs(datum.value*10-round(datum.value*10))<0.001","value":-11},"value":-6},"format":".2~f","labelExpr":"abs(datum.value*10-round(datum.value*10))<0.001 ? datum.label : ''","labelFont":"Liberation Sans","labelFontSize":32,"labelColor":"black","labelPadding":18,"labelOverlap":false,"title":null}},"y2":{"field":"th"}}},
{"mark":{"type":"rect","fill":"#99cc33"},"encoding":{"x":{"field":"lo","type":"quantitative","axis":{"orient":"top","values":[0,0.25,0.5,0.75,1,1.25,1.5,1.75,2,2.25,2.5,2.75,3],"domain":false,"grid":false,"labels":false,"tickColor":"black","tickWidth":2,"tickSize":{"condition":{"test":"abs(datum.value*2-round(datum.value*2))<0.001","value":-11},"value":-6},"title":null}},"x2":{"field":"hi"},"y":{"field":"sl","type":"quantitative","axis":{"orient":"right","values":[0.88,0.9,0.92,0.94,0.96,0.98,1,1.02,1.04,1.06,1.08,1.1,1.12],"domain":false,"grid":false,"labels":false,"tickColor":"black","tickWidth":2,"tickSize":{"condition":{"test":"abs(datum.value*10-round(datum.value*10))<0.001","value":-11},"value":-6},"title":null}},"y2":{"field":"sh"}}},
{"mark":{"type":"rule","color":"#ff0000","strokeWidth":3,"strokeDash":[3,5]},"encoding":{"x":{"field":"lo","type":"quantitative","axis":null},"x2":{"field":"hi"},"y":{"field":"nn","type":"quantitative","axis":null}}},
{"mark":{"type":"rule","color":"#ff00ff","strokeWidth":3,"strokeDash":[12,5,3,5]},"encoding":{"x":{"field":"lo","type":"quantitative","axis":null},"x2":{"field":"hi"},"y":{"field":"ab","type":"quantitative","axis":null}}},
{"mark":{"type":"rule","color":"#000099","strokeWidth":3,"strokeDash":[12,12]},"encoding":{"x":{"field":"lo","type":"quantitative","axis":null},"x2":{"field":"hi"},"y":{"field":"ct","type":"quantitative","axis":null}}},
{"mark":{"type":"rule","color":"#339933","strokeWidth":3,"strokeDash":[12,12]},"encoding":{"x":{"field":"lo","type":"quantitative","axis":null},"x2":{"field":"hi"},"y":{"field":"he","type":"quantitative","axis":null}}},
{"mark":{"type":"rule","color":"#cc6a1a","strokeWidth":3},"encoding":{"x":{"field":"lo","type":"quantitative","axis":null},"x2":{"field":"hi"},"y":{"field":"m","type":"quantitative","axis":null}}},
{"mark":{"type":"rule","color":"black","strokeWidth":3},"encoding":{"x":{"field":"xc","type":"quantitative","axis":null},"y":{"field":"el","type":"quantitative","axis":null},"y2":{"field":"eh"}}},
{"mark":{"type":"tick","orient":"horizontal","size":12,"thickness":3,"color":"black","opacity":1},"encoding":{"x":{"field":"xc","type":"quantitative","axis":null},"y":{"field":"el","type":"quantitative","axis":null}}},
{"mark":{"type":"tick","orient":"horizontal","size":12,"thickness":3,"color":"black","opacity":1},"encoding":{"x":{"field":"xc","type":"quantitative","axis":null},"y":{"field":"eh","type":"quantitative","axis":null}}},
{"mark":{"type":"circle","size":254,"color":"black","opacity":1},"encoding":{"x":{"field":"xc","type":"quantitative","axis":null},"y":{"field":"d","type":"quantitative","axis":null}}},
{"data":{"values":[{"t":"200 GeV < mₗₗ < 300 GeV"}]},"mark":{"type":"text","align":"left","baseline":"alphabetic","fontSize":26},"encoding":{"x":{"datum":0.087,"type":"quantitative","axis":null},"y":{"datum":1.1054,"type":"quantitative","axis":null},"text":{"field":"t"}}}
]},
{"width":567,"height":275,"data":{"name":"p4"},"layer":[
{"mark":{"type":"rect","fill":"#ccff33"},"encoding":{"x":{"field":"lo","type":"quantitative","scale":{"domain":[0,3],"nice":false,"zero":false},"axis":{"orient":"bottom","values":[0,0.25,0.5,0.75,1,1.25,1.5,1.75,2,2.25,2.5,2.75,3],"domain":false,"grid":false,"labels":false,"tickColor":"black","tickWidth":2,"tickSize":{"condition":{"test":"abs(datum.value*2-round(datum.value*2))<0.001","value":-11},"value":-6},"title":null}},"x2":{"field":"hi"},"y":{"field":"tl","type":"quantitative","scale":{"domain":[0.86,1.29],"nice":false,"zero":false},"axis":{"orient":"left","values":[0.88,0.9,0.92,0.94,0.96,0.98,1,1.02,1.04,1.06,1.08,1.1,1.12,1.14,1.16,1.18,1.2,1.22,1.24,1.26,1.28],"domain":false,"grid":false,"tickColor":"black","tickWidth":2,"tickSize":{"condition":{"test":"abs(datum.value*10-round(datum.value*10))<0.001","value":-11},"value":-6},"format":".2~f","labelExpr":"abs(datum.value*10-round(datum.value*10))<0.001 ? datum.label : ''","labelFont":"Liberation Sans","labelFontSize":32,"labelColor":"black","labelPadding":18,"labelOverlap":false,"title":null}},"y2":{"field":"th"}}},
{"mark":{"type":"rect","fill":"#99cc33"},"encoding":{"x":{"field":"lo","type":"quantitative","axis":{"orient":"top","values":[0,0.25,0.5,0.75,1,1.25,1.5,1.75,2,2.25,2.5,2.75,3],"domain":false,"grid":false,"labels":false,"tickColor":"black","tickWidth":2,"tickSize":{"condition":{"test":"abs(datum.value*2-round(datum.value*2))<0.001","value":-11},"value":-6},"title":null}},"x2":{"field":"hi"},"y":{"field":"sl","type":"quantitative","axis":{"orient":"right","values":[0.88,0.9,0.92,0.94,0.96,0.98,1,1.02,1.04,1.06,1.08,1.1,1.12,1.14,1.16,1.18,1.2,1.22,1.24,1.26,1.28],"domain":false,"grid":false,"labels":false,"tickColor":"black","tickWidth":2,"tickSize":{"condition":{"test":"abs(datum.value*10-round(datum.value*10))<0.001","value":-11},"value":-6},"title":null}},"y2":{"field":"sh"}}},
{"mark":{"type":"rect","clip":true,"fill":{"gradient":"linear","x1":0,"y1":1,"x2":1.2,"y2":0.4,"stops":[{"offset":0,"color":"#f7b21e"},{"offset":0.0253,"color":"#f7b21e"},{"offset":0.0253,"color":"rgba(247,178,30,0)"},{"offset":0.0667,"color":"rgba(247,178,30,0)"},{"offset":0.0667,"color":"#f7b21e"},{"offset":0.092,"color":"#f7b21e"},{"offset":0.092,"color":"rgba(247,178,30,0)"},{"offset":0.1333,"color":"rgba(247,178,30,0)"},{"offset":0.1333,"color":"#f7b21e"},{"offset":0.1587,"color":"#f7b21e"},{"offset":0.1587,"color":"rgba(247,178,30,0)"},{"offset":0.2,"color":"rgba(247,178,30,0)"},{"offset":0.2,"color":"#f7b21e"},{"offset":0.2253,"color":"#f7b21e"},{"offset":0.2253,"color":"rgba(247,178,30,0)"},{"offset":0.2667,"color":"rgba(247,178,30,0)"},{"offset":0.2667,"color":"#f7b21e"},{"offset":0.292,"color":"#f7b21e"},{"offset":0.292,"color":"rgba(247,178,30,0)"},{"offset":0.3333,"color":"rgba(247,178,30,0)"},{"offset":0.3333,"color":"#f7b21e"},{"offset":0.3587,"color":"#f7b21e"},{"offset":0.3587,"color":"rgba(247,178,30,0)"},{"offset":0.4,"color":"rgba(247,178,30,0)"},{"offset":0.4,"color":"#f7b21e"},{"offset":0.4253,"color":"#f7b21e"},{"offset":0.4253,"color":"rgba(247,178,30,0)"},{"offset":0.4667,"color":"rgba(247,178,30,0)"},{"offset":0.4667,"color":"#f7b21e"},{"offset":0.492,"color":"#f7b21e"},{"offset":0.492,"color":"rgba(247,178,30,0)"},{"offset":0.5333,"color":"rgba(247,178,30,0)"},{"offset":0.5333,"color":"#f7b21e"},{"offset":0.5587,"color":"#f7b21e"},{"offset":0.5587,"color":"rgba(247,178,30,0)"},{"offset":0.6,"color":"rgba(247,178,30,0)"},{"offset":0.6,"color":"#f7b21e"},{"offset":0.6253,"color":"#f7b21e"},{"offset":0.6253,"color":"rgba(247,178,30,0)"},{"offset":0.6667,"color":"rgba(247,178,30,0)"},{"offset":0.6667,"color":"#f7b21e"},{"offset":0.692,"color":"#f7b21e"},{"offset":0.692,"color":"rgba(247,178,30,0)"},{"offset":0.7333,"color":"rgba(247,178,30,0)"},{"offset":0.7333,"color":"#f7b21e"},{"offset":0.7587,"color":"#f7b21e"},{"offset":0.7587,"color":"rgba(247,178,30,0)"},{"offset":0.8,"color":"rgba(247,178,30,0)"},{"offset":0.8,"color":"#f7b21e"},{"offset":0.8253,"color":"#f7b21e"},{"offset":0.8253,"color":"rgba(247,178,30,0)"},{"offset":0.8667,"color":"rgba(247,178,30,0)"},{"offset":0.8667,"color":"#f7b21e"},{"offset":0.892,"color":"#f7b21e"},{"offset":0.892,"color":"rgba(247,178,30,0)"},{"offset":0.9333,"color":"rgba(247,178,30,0)"},{"offset":0.9333,"color":"#f7b21e"},{"offset":0.9587,"color":"#f7b21e"},{"offset":0.9587,"color":"rgba(247,178,30,0)"},{"offset":1,"color":"rgba(247,178,30,0)"}]}},"encoding":{"x":{"field":"lo","type":"quantitative","axis":null},"x2":{"field":"hi"},"y":{"field":"ml","type":"quantitative","axis":null},"y2":{"field":"mh"}}},
{"mark":{"type":"rule","color":"#cc6a1a","strokeWidth":3},"encoding":{"x":{"field":"lo","type":"quantitative","axis":null},"x2":{"field":"hi"},"y":{"field":"m","type":"quantitative","axis":null}}},
{"mark":{"type":"rule","color":"#ff0000","strokeWidth":3,"strokeDash":[11,12]},"encoding":{"x":{"field":"lo","type":"quantitative","axis":null},"x2":{"field":"hi"},"y":{"field":"np","type":"quantitative","axis":null}}},
{"mark":{"type":"rule","color":"black","strokeWidth":3},"encoding":{"x":{"field":"xc","type":"quantitative","axis":null},"y":{"field":"el","type":"quantitative","axis":null},"y2":{"field":"eh"}}},
{"mark":{"type":"tick","orient":"horizontal","size":12,"thickness":3,"color":"black","opacity":1},"encoding":{"x":{"field":"xc","type":"quantitative","axis":null},"y":{"field":"el","type":"quantitative","axis":null}}},
{"mark":{"type":"tick","orient":"horizontal","size":12,"thickness":3,"color":"black","opacity":1},"encoding":{"x":{"field":"xc","type":"quantitative","axis":null},"y":{"field":"eh","type":"quantitative","axis":null}}},
{"mark":{"type":"circle","size":254,"color":"black","opacity":1},"encoding":{"x":{"field":"xc","type":"quantitative","axis":null},"y":{"field":"d","type":"quantitative","axis":null}}},
{"data":{"values":[{"t":"300 GeV < mₗₗ < 500 GeV"}]},"mark":{"type":"text","align":"left","baseline":"alphabetic","fontSize":26},"encoding":{"x":{"datum":0.087,"type":"quantitative","axis":null},"y":{"datum":1.2368,"type":"quantitative","axis":null},"text":{"field":"t"}}}
]},
{"width":567,"height":275,"data":{"name":"p4"},"layer":[
{"mark":{"type":"rect","fill":"#ccff33"},"encoding":{"x":{"field":"lo","type":"quantitative","scale":{"domain":[0,3],"nice":false,"zero":false},"axis":{"orient":"bottom","values":[0,0.25,0.5,0.75,1,1.25,1.5,1.75,2,2.25,2.5,2.75,3],"domain":false,"grid":false,"labels":false,"tickColor":"black","tickWidth":2,"tickSize":{"condition":{"test":"abs(datum.value*2-round(datum.value*2))<0.001","value":-11},"value":-6},"title":null}},"x2":{"field":"hi"},"y":{"field":"tl","type":"quantitative","scale":{"domain":[0.86,1.29],"nice":false,"zero":false},"axis":{"orient":"left","values":[0.88,0.9,0.92,0.94,0.96,0.98,1,1.02,1.04,1.06,1.08,1.1,1.12,1.14,1.16,1.18,1.2,1.22,1.24,1.26,1.28],"domain":false,"grid":false,"tickColor":"black","tickWidth":2,"tickSize":{"condition":{"test":"abs(datum.value*10-round(datum.value*10))<0.001","value":-11},"value":-6},"format":".2~f","labelExpr":"abs(datum.value*10-round(datum.value*10))<0.001 ? datum.label : ''","labelFont":"Liberation Sans","labelFontSize":32,"labelColor":"black","labelPadding":18,"labelOverlap":false,"title":null}},"y2":{"field":"th"}}},
{"mark":{"type":"rect","fill":"#99cc33"},"encoding":{"x":{"field":"lo","type":"quantitative","axis":{"orient":"top","values":[0,0.25,0.5,0.75,1,1.25,1.5,1.75,2,2.25,2.5,2.75,3],"domain":false,"grid":false,"labels":false,"tickColor":"black","tickWidth":2,"tickSize":{"condition":{"test":"abs(datum.value*2-round(datum.value*2))<0.001","value":-11},"value":-6},"title":null}},"x2":{"field":"hi"},"y":{"field":"sl","type":"quantitative","axis":{"orient":"right","values":[0.88,0.9,0.92,0.94,0.96,0.98,1,1.02,1.04,1.06,1.08,1.1,1.12,1.14,1.16,1.18,1.2,1.22,1.24,1.26,1.28],"domain":false,"grid":false,"labels":false,"tickColor":"black","tickWidth":2,"tickSize":{"condition":{"test":"abs(datum.value*10-round(datum.value*10))<0.001","value":-11},"value":-6},"title":null}},"y2":{"field":"sh"}}},
{"mark":{"type":"rule","color":"#ff0000","strokeWidth":3,"strokeDash":[3,5]},"encoding":{"x":{"field":"lo","type":"quantitative","axis":null},"x2":{"field":"hi"},"y":{"field":"nn","type":"quantitative","axis":null}}},
{"mark":{"type":"rule","color":"#ff00ff","strokeWidth":3,"strokeDash":[12,5,3,5]},"encoding":{"x":{"field":"lo","type":"quantitative","axis":null},"x2":{"field":"hi"},"y":{"field":"ab","type":"quantitative","axis":null}}},
{"mark":{"type":"rule","color":"#000099","strokeWidth":3,"strokeDash":[12,12]},"encoding":{"x":{"field":"lo","type":"quantitative","axis":null},"x2":{"field":"hi"},"y":{"field":"ct","type":"quantitative","axis":null}}},
{"mark":{"type":"rule","color":"#339933","strokeWidth":3,"strokeDash":[12,12]},"encoding":{"x":{"field":"lo","type":"quantitative","axis":null},"x2":{"field":"hi"},"y":{"field":"he","type":"quantitative","axis":null}}},
{"mark":{"type":"rule","color":"#cc6a1a","strokeWidth":3},"encoding":{"x":{"field":"lo","type":"quantitative","axis":null},"x2":{"field":"hi"},"y":{"field":"m","type":"quantitative","axis":null}}},
{"mark":{"type":"rule","color":"black","strokeWidth":3},"encoding":{"x":{"field":"xc","type":"quantitative","axis":null},"y":{"field":"el","type":"quantitative","axis":null},"y2":{"field":"eh"}}},
{"mark":{"type":"tick","orient":"horizontal","size":12,"thickness":3,"color":"black","opacity":1},"encoding":{"x":{"field":"xc","type":"quantitative","axis":null},"y":{"field":"el","type":"quantitative","axis":null}}},
{"mark":{"type":"tick","orient":"horizontal","size":12,"thickness":3,"color":"black","opacity":1},"encoding":{"x":{"field":"xc","type":"quantitative","axis":null},"y":{"field":"eh","type":"quantitative","axis":null}}},
{"mark":{"type":"circle","size":254,"color":"black","opacity":1},"encoding":{"x":{"field":"xc","type":"quantitative","axis":null},"y":{"field":"d","type":"quantitative","axis":null}}},
{"data":{"values":[{"t":"300 GeV < mₗₗ < 500 GeV"}]},"mark":{"type":"text","align":"left","baseline":"alphabetic","fontSize":26},"encoding":{"x":{"datum":0.087,"type":"quantitative","axis":null},"y":{"datum":1.2368,"type":"quantitative","axis":null},"text":{"field":"t"}}}
]},
{"width":567,"height":275,"data":{"name":"p5"},"layer":[
{"mark":{"type":"rect","fill":"#ccff33"},"encoding":{"x":{"field":"lo","type":"quantitative","scale":{"domain":[0,3],"nice":false,"zero":false},"axis":{"orient":"bottom","values":[0,0.25,0.5,0.75,1,1.25,1.5,1.75,2,2.25,2.5,2.75,3],"domain":false,"grid":false,"tickColor":"black","tickWidth":2,"tickSize":{"condition":{"test":"abs(datum.value*2-round(datum.value*2))<0.001","value":-11},"value":-6},"format":".2~f","labelExpr":"abs(datum.value*2-round(datum.value*2))<0.001 ? datum.label : ''","labelFont":"Liberation Sans","labelFontSize":49,"labelColor":"black","labelPadding":39,"labelFlush":false,"labelOverlap":false,"title":"|Δηₗₗ|","titleFont":"Liberation Sans","titleFontSize":50,"titleFontWeight":"normal","titleColor":"black","titleX":567,"titleY":92,"titleAlign":"right","titleBaseline":"top","titleAngle":0}},"x2":{"field":"hi"},"y":{"field":"tl","type":"quantitative","scale":{"domain":[0.61,1.6],"nice":false,"zero":false},"axis":{"orient":"left","values":[0.64,0.68,0.72,0.76,0.8,0.84,0.88,0.92,0.96,1,1.04,1.08,1.12,1.16,1.2,1.24,1.28,1.32,1.36,1.4,1.44,1.48,1.52,1.56],"domain":false,"grid":false,"tickColor":"black","tickWidth":2,"tickSize":{"condition":{"test":"abs(datum.value*5-round(datum.value*5))<0.001","value":-11},"value":-6},"format":".2~f","labelExpr":"abs(datum.value*5-round(datum.value*5))<0.001 ? datum.label : ''","labelFont":"Liberation Sans","labelFontSize":32,"labelColor":"black","labelPadding":18,"labelOverlap":false,"title":null}},"y2":{"field":"th"}}},
{"mark":{"type":"rect","fill":"#99cc33"},"encoding":{"x":{"field":"lo","type":"quantitative","axis":{"orient":"top","values":[0,0.25,0.5,0.75,1,1.25,1.5,1.75,2,2.25,2.5,2.75,3],"domain":false,"grid":false,"labels":false,"tickColor":"black","tickWidth":2,"tickSize":{"condition":{"test":"abs(datum.value*2-round(datum.value*2))<0.001","value":-11},"value":-6},"title":null}},"x2":{"field":"hi"},"y":{"field":"sl","type":"quantitative","axis":{"orient":"right","values":[0.64,0.68,0.72,0.76,0.8,0.84,0.88,0.92,0.96,1,1.04,1.08,1.12,1.16,1.2,1.24,1.28,1.32,1.36,1.4,1.44,1.48,1.52,1.56],"domain":false,"grid":false,"labels":false,"tickColor":"black","tickWidth":2,"tickSize":{"condition":{"test":"abs(datum.value*5-round(datum.value*5))<0.001","value":-11},"value":-6},"title":null}},"y2":{"field":"sh"}}},
{"mark":{"type":"rect","clip":true,"fill":{"gradient":"linear","x1":0,"y1":1,"x2":1.2,"y2":0.4,"stops":[{"offset":0,"color":"#f7b21e"},{"offset":0.0253,"color":"#f7b21e"},{"offset":0.0253,"color":"rgba(247,178,30,0)"},{"offset":0.0667,"color":"rgba(247,178,30,0)"},{"offset":0.0667,"color":"#f7b21e"},{"offset":0.092,"color":"#f7b21e"},{"offset":0.092,"color":"rgba(247,178,30,0)"},{"offset":0.1333,"color":"rgba(247,178,30,0)"},{"offset":0.1333,"color":"#f7b21e"},{"offset":0.1587,"color":"#f7b21e"},{"offset":0.1587,"color":"rgba(247,178,30,0)"},{"offset":0.2,"color":"rgba(247,178,30,0)"},{"offset":0.2,"color":"#f7b21e"},{"offset":0.2253,"color":"#f7b21e"},{"offset":0.2253,"color":"rgba(247,178,30,0)"},{"offset":0.2667,"color":"rgba(247,178,30,0)"},{"offset":0.2667,"color":"#f7b21e"},{"offset":0.292,"color":"#f7b21e"},{"offset":0.292,"color":"rgba(247,178,30,0)"},{"offset":0.3333,"color":"rgba(247,178,30,0)"},{"offset":0.3333,"color":"#f7b21e"},{"offset":0.3587,"color":"#f7b21e"},{"offset":0.3587,"color":"rgba(247,178,30,0)"},{"offset":0.4,"color":"rgba(247,178,30,0)"},{"offset":0.4,"color":"#f7b21e"},{"offset":0.4253,"color":"#f7b21e"},{"offset":0.4253,"color":"rgba(247,178,30,0)"},{"offset":0.4667,"color":"rgba(247,178,30,0)"},{"offset":0.4667,"color":"#f7b21e"},{"offset":0.492,"color":"#f7b21e"},{"offset":0.492,"color":"rgba(247,178,30,0)"},{"offset":0.5333,"color":"rgba(247,178,30,0)"},{"offset":0.5333,"color":"#f7b21e"},{"offset":0.5587,"color":"#f7b21e"},{"offset":0.5587,"color":"rgba(247,178,30,0)"},{"offset":0.6,"color":"rgba(247,178,30,0)"},{"offset":0.6,"color":"#f7b21e"},{"offset":0.6253,"color":"#f7b21e"},{"offset":0.6253,"color":"rgba(247,178,30,0)"},{"offset":0.6667,"color":"rgba(247,178,30,0)"},{"offset":0.6667,"color":"#f7b21e"},{"offset":0.692,"color":"#f7b21e"},{"offset":0.692,"color":"rgba(247,178,30,0)"},{"offset":0.7333,"color":"rgba(247,178,30,0)"},{"offset":0.7333,"color":"#f7b21e"},{"offset":0.7587,"color":"#f7b21e"},{"offset":0.7587,"color":"rgba(247,178,30,0)"},{"offset":0.8,"color":"rgba(247,178,30,0)"},{"offset":0.8,"color":"#f7b21e"},{"offset":0.8253,"color":"#f7b21e"},{"offset":0.8253,"color":"rgba(247,178,30,0)"},{"offset":0.8667,"color":"rgba(247,178,30,0)"},{"offset":0.8667,"color":"#f7b21e"},{"offset":0.892,"color":"#f7b21e"},{"offset":0.892,"color":"rgba(247,178,30,0)"},{"offset":0.9333,"color":"rgba(247,178,30,0)"},{"offset":0.9333,"color":"#f7b21e"},{"offset":0.9587,"color":"#f7b21e"},{"offset":0.9587,"color":"rgba(247,178,30,0)"},{"offset":1,"color":"rgba(247,178,30,0)"}]}},"encoding":{"x":{"field":"lo","type":"quantitative","axis":null},"x2":{"field":"hi"},"y":{"field":"ml","type":"quantitative","axis":null},"y2":{"field":"mh"}}},
{"mark":{"type":"rule","color":"#cc6a1a","strokeWidth":3},"encoding":{"x":{"field":"lo","type":"quantitative","axis":null},"x2":{"field":"hi"},"y":{"field":"m","type":"quantitative","axis":null}}},
{"mark":{"type":"rule","color":"#ff0000","strokeWidth":3,"strokeDash":[11,12]},"encoding":{"x":{"field":"lo","type":"quantitative","axis":null},"x2":{"field":"hi"},"y":{"field":"np","type":"quantitative","axis":null}}},
{"mark":{"type":"rule","color":"black","strokeWidth":3},"encoding":{"x":{"field":"xc","type":"quantitative","axis":null},"y":{"field":"el","type":"quantitative","axis":null},"y2":{"field":"eh"}}},
{"mark":{"type":"tick","orient":"horizontal","size":12,"thickness":3,"color":"black","opacity":1},"encoding":{"x":{"field":"xc","type":"quantitative","axis":null},"y":{"field":"el","type":"quantitative","axis":null}}},
{"mark":{"type":"tick","orient":"horizontal","size":12,"thickness":3,"color":"black","opacity":1},"encoding":{"x":{"field":"xc","type":"quantitative","axis":null},"y":{"field":"eh","type":"quantitative","axis":null}}},
{"mark":{"type":"circle","size":254,"color":"black","opacity":1},"encoding":{"x":{"field":"xc","type":"quantitative","axis":null},"y":{"field":"d","type":"quantitative","axis":null}}},
{"data":{"values":[{"t":"500 GeV < mₗₗ < 1500 GeV"}]},"mark":{"type":"text","align":"left","baseline":"alphabetic","fontSize":26},"encoding":{"x":{"datum":0.087,"type":"quantitative","axis":null},"y":{"datum":1.4776,"type":"quantitative","axis":null},"text":{"field":"t"}}}
]},
{"width":567,"height":275,"data":{"name":"p5"},"layer":[
{"mark":{"type":"rect","fill":"#ccff33"},"encoding":{"x":{"field":"lo","type":"quantitative","scale":{"domain":[0,3],"nice":false,"zero":false},"axis":{"orient":"bottom","values":[0,0.25,0.5,0.75,1,1.25,1.5,1.75,2,2.25,2.5,2.75,3],"domain":false,"grid":false,"tickColor":"black","tickWidth":2,"tickSize":{"condition":{"test":"abs(datum.value*2-round(datum.value*2))<0.001","value":-11},"value":-6},"format":".2~f","labelExpr":"abs(datum.value*2-round(datum.value*2))<0.001 ? datum.label : ''","labelFont":"Liberation Sans","labelFontSize":49,"labelColor":"black","labelPadding":39,"labelFlush":false,"labelOverlap":false,"title":"|Δηₗₗ|","titleFont":"Liberation Sans","titleFontSize":50,"titleFontWeight":"normal","titleColor":"black","titleX":567,"titleY":92,"titleAlign":"right","titleBaseline":"top","titleAngle":0}},"x2":{"field":"hi"},"y":{"field":"tl","type":"quantitative","scale":{"domain":[0.61,1.6],"nice":false,"zero":false},"axis":{"orient":"left","values":[0.64,0.68,0.72,0.76,0.8,0.84,0.88,0.92,0.96,1,1.04,1.08,1.12,1.16,1.2,1.24,1.28,1.32,1.36,1.4,1.44,1.48,1.52,1.56],"domain":false,"grid":false,"tickColor":"black","tickWidth":2,"tickSize":{"condition":{"test":"abs(datum.value*5-round(datum.value*5))<0.001","value":-11},"value":-6},"format":".2~f","labelExpr":"abs(datum.value*5-round(datum.value*5))<0.001 ? datum.label : ''","labelFont":"Liberation Sans","labelFontSize":32,"labelColor":"black","labelPadding":18,"labelOverlap":false,"title":null}},"y2":{"field":"th"}}},
{"mark":{"type":"rect","fill":"#99cc33"},"encoding":{"x":{"field":"lo","type":"quantitative","axis":{"orient":"top","values":[0,0.25,0.5,0.75,1,1.25,1.5,1.75,2,2.25,2.5,2.75,3],"domain":false,"grid":false,"labels":false,"tickColor":"black","tickWidth":2,"tickSize":{"condition":{"test":"abs(datum.value*2-round(datum.value*2))<0.001","value":-11},"value":-6},"title":null}},"x2":{"field":"hi"},"y":{"field":"sl","type":"quantitative","axis":{"orient":"right","values":[0.64,0.68,0.72,0.76,0.8,0.84,0.88,0.92,0.96,1,1.04,1.08,1.12,1.16,1.2,1.24,1.28,1.32,1.36,1.4,1.44,1.48,1.52,1.56],"domain":false,"grid":false,"labels":false,"tickColor":"black","tickWidth":2,"tickSize":{"condition":{"test":"abs(datum.value*5-round(datum.value*5))<0.001","value":-11},"value":-6},"title":null}},"y2":{"field":"sh"}}},
{"mark":{"type":"rule","color":"#ff0000","strokeWidth":3,"strokeDash":[3,5]},"encoding":{"x":{"field":"lo","type":"quantitative","axis":null},"x2":{"field":"hi"},"y":{"field":"nn","type":"quantitative","axis":null}}},
{"mark":{"type":"rule","color":"#ff00ff","strokeWidth":3,"strokeDash":[12,5,3,5]},"encoding":{"x":{"field":"lo","type":"quantitative","axis":null},"x2":{"field":"hi"},"y":{"field":"ab","type":"quantitative","axis":null}}},
{"mark":{"type":"rule","color":"#000099","strokeWidth":3,"strokeDash":[12,12]},"encoding":{"x":{"field":"lo","type":"quantitative","axis":null},"x2":{"field":"hi"},"y":{"field":"ct","type":"quantitative","axis":null}}},
{"mark":{"type":"rule","color":"#339933","strokeWidth":3,"strokeDash":[12,12]},"encoding":{"x":{"field":"lo","type":"quantitative","axis":null},"x2":{"field":"hi"},"y":{"field":"he","type":"quantitative","axis":null}}},
{"mark":{"type":"rule","color":"#cc6a1a","strokeWidth":3},"encoding":{"x":{"field":"lo","type":"quantitative","axis":null},"x2":{"field":"hi"},"y":{"field":"m","type":"quantitative","axis":null}}},
{"mark":{"type":"rule","color":"black","strokeWidth":3},"encoding":{"x":{"field":"xc","type":"quantitative","axis":null},"y":{"field":"el","type":"quantitative","axis":null},"y2":{"field":"eh"}}},
{"mark":{"type":"tick","orient":"horizontal","size":12,"thickness":3,"color":"black","opacity":1},"encoding":{"x":{"field":"xc","type":"quantitative","axis":null},"y":{"field":"el","type":"quantitative","axis":null}}},
{"mark":{"type":"tick","orient":"horizontal","size":12,"thickness":3,"color":"black","opacity":1},"encoding":{"x":{"field":"xc","type":"quantitative","axis":null},"y":{"field":"eh","type":"quantitative","axis":null}}},
{"mark":{"type":"circle","size":254,"color":"black","opacity":1},"encoding":{"x":{"field":"xc","type":"quantitative","axis":null},"y":{"field":"d","type":"quantitative","axis":null}}},
{"data":{"values":[{"t":"500 GeV < mₗₗ < 1500 GeV"}]},"mark":{"type":"text","align":"left","baseline":"alphabetic","fontSize":26},"encoding":{"x":{"datum":0.087,"type":"quantitative","axis":null},"y":{"datum":1.4776,"type":"quantitative","axis":null},"text":{"field":"t"}}}
]}
]
}
